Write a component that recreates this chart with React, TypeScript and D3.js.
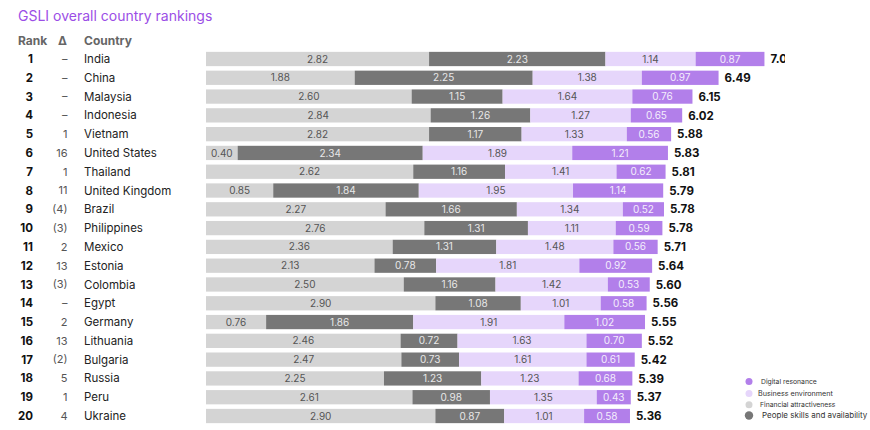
import React from "react";
import * as d3 from "d3";

const ranks = [1,2,3,4,5,6,7,8,9,10,11,12,13,14,15,16,17,18,19,20];
const deltas = ["–","–","–","–","1","16","1","11","(4)","(3)","2","13","(3)","–","2","13","(2)","5","1","4"];
const countries = ["India","China","Malaysia","Indonesia","Vietnam","United States","Thailand","United Kingdom","Brazil","Philippines","Mexico","Estonia","Colombia","Egypt","Germany","Lithuania","Bulgaria","Russia","Peru","Ukraine"];
const financial = [2.82,1.88,2.60,2.84,2.82,0.40,2.62,0.85,2.27,2.76,2.36,2.13,2.50,2.90,0.76,2.46,2.47,2.25,2.61,2.90];
const people = [2.23,2.25,1.15,1.26,1.17,2.34,1.16,1.84,1.66,1.31,1.31,0.78,1.16,1.08,1.86,0.72,0.73,1.23,0.98,0.87];
const business = [1.14,1.38,1.64,1.27,1.33,1.89,1.41,1.95,1.34,1.11,1.48,1.81,1.42,1.01,1.91,1.63,1.61,1.23,1.35,1.01];
const digital = [0.87,0.97,0.76,0.65,0.56,1.21,0.62,1.14,0.52,0.59,0.56,0.92,0.53,0.58,1.02,0.70,0.61,0.68,0.43,0.58];
const totals = [7.06,6.49,6.15,6.02,5.88,5.83,5.81,5.79,5.78,5.78,5.71,5.64,5.60,5.56,5.55,5.52,5.42,5.39,5.37,5.36];

const seriesKeys = ["financial","people","business","digital"];
const seriesFill: Record<string,string> = { financial: "#d4d4d4", people: "#777777", business: "#e6d6fb", digital: "#b27fea" };
const seriesText: Record<string,string> = { financial: "#555555", people: "#e8e8e8", business: "#555555", digital: "#f4eefc" };
const legendItems = [
  { label: "Digital resonance", key: "digital" },
  { label: "Business environment", key: "business" },
  { label: "Financial attractiveness", key: "financial" },
  { label: "People skills and availability", key: "people" },
];
const legendStyle: Record<string, { dx: number; size: number; r: number }> = {
  digital: { dx: 761, size: 6.8, r: 3.5 },
  business: { dx: 758, size: 7.2, r: 3.5 },
  financial: { dx: 760, size: 6.8, r: 3.5 },
  people: { dx: 762, size: 8, r: 4.2 },
};
const legendY = [381.5, 393.5, 404.7, 415.5];

const FONT = "Inter, 'Open Sans', Roboto, sans-serif";

export default function App() {
  const width = 870, height = 430;
  const rows = countries.map((c, i) => ({
    country: c, financial: financial[i], people: people[i], business: business[i], digital: digital[i], total: totals[i],
  }));
  const stack = d3.stack<any>().keys(seriesKeys)(rows);
  const x = d3.scaleLinear().domain([0, 1]).range([206, 285.1]);
  const y = d3.scaleBand<number>().domain(d3.range(20)).range([49.6, 425.4]).paddingInner(0.24).paddingOuter(0.12);
  const cy = (i: number) => (y(i) as number) + y.bandwidth() / 2;

  return (
    <svg width={width} height={height} style={{ position: "absolute", left: 0, top: 0, background: "#fff" }} fontFamily={FONT}>
      <defs>
        <clipPath id="clipR"><rect x={0} y={0} width={785} height={height} /></clipPath>
      </defs>
      <text x={18} y={21} fontSize={14} fill="#9b4ee6">GSLI overall country rankings</text>
      <text x={18} y={45} fontSize={12} fontWeight={700} fill="#666">Rank</text>
      <text x={67} y={45} fontSize={12} fontWeight={700} fill="#666" textAnchor="end">Δ</text>
      <text x={84} y={45} fontSize={12} fontWeight={700} fill="#666">Country</text>
      {rows.map((r, i) => (
        <g key={r.country}>
          <text x={33} y={cy(i)} dy="0.35em" fontSize={11.5} fontWeight={700} fill="#111" textAnchor="end">{ranks[i]}</text>
          <text x={67.5} y={cy(i)} dy="0.35em" fontSize={11} fill="#555" textAnchor="end">{deltas[i]}</text>
          <text x={84} y={cy(i)} dy="0.35em" fontSize={11.5} fill="#222">{r.country}</text>
        </g>
      ))}
      <g clipPath="url(#clipR)">
        {stack.map((s) => (
          <g key={s.key}>
            {s.map((d, i) => (
              <g key={i}>
                <rect x={x(d[0])} y={y(i)} width={x(d[1]) - x(d[0])} height={y.bandwidth()} fill={seriesFill[s.key]} />
                <text x={(x(d[0]) + x(d[1])) / 2} y={cy(i)} dy="0.36em" fontSize={10} textAnchor="middle" fill={seriesText[s.key]}>
                  {(d[1] - d[0]).toFixed(2)}
                </text>
              </g>
            ))}
          </g>
        ))}
        {rows.map((r, i) => (
          <text key={r.country} x={x(r.financial + r.people + r.business + r.digital) + 6} y={cy(i)} dy="0.36em" fontSize={11.5} fontWeight={700} fill="#111">
            {r.total.toFixed(2)}
          </text>
        ))}
      </g>
      {legendItems.map((l, i) => (
        <g key={l.key}>
          <circle cx={749} cy={legendY[i]} r={legendStyle[l.key].r} fill={seriesFill[l.key]} />
          <text x={legendStyle[l.key].dx} y={legendY[i]} dy="0.35em" fontSize={legendStyle[l.key].size} fill="#333">{l.label}</text>
        </g>
      ))}
    </svg>
  );
}
